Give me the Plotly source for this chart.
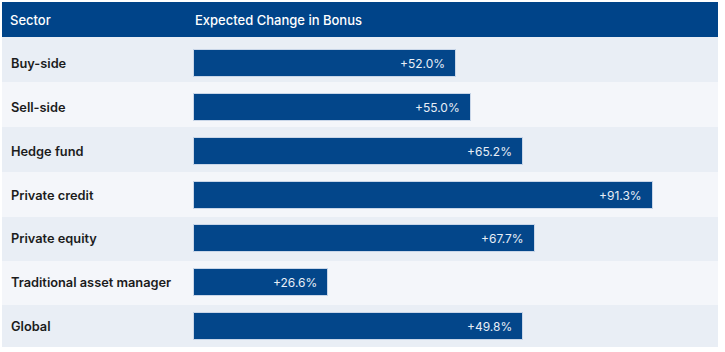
import plotly.graph_objects as go

sectors = ["Buy-side", "Sell-side", "Hedge fund", "Private credit",
           "Private equity", "Traditional asset manager", "Global"]
# bar lengths as drawn in the picture (percent) and the printed labels
bar_lengths = [52.0, 55.0, 65.2, 91.0, 67.6, 26.6, 65.3]
labels = ["+52.0%", "+55.0%", "+65.2%", "+91.3%", "+67.7%", "+26.6%", "+49.8%"]
header_left = "Sector"
header_right = "Expected Change in Bonus"

W, H = 725, 352
X0PX, PXPER = 194.0, 5.04      # bar start pixel, pixels per percent
ROW0, ROWH = 63.5, 43.87       # first bar centre, bar pitch (px)
ROW_EDGES = [37, 82, 127, 172.5, 216.7, 261, 305, 347]  # row band edges (px)

BLUE = "#03468a"
ODD = "#e9eef5"
EVEN = "#f4f6fa"

fig = go.Figure()
fig.add_trace(go.Bar(
    x=bar_lengths, y=sectors, orientation="h", base=0,
    width=27 / ROWH,
    marker=dict(color=BLUE, line=dict(color="#c9d6e8", width=1)),
    hoverinfo="skip",
))

shapes = []
for i in range(len(sectors)):
    shapes.append(dict(type="rect", xref="paper", yref="paper", layer="below",
                       x0=2 / W, x1=718 / W,
                       y0=1 - ROW_EDGES[i + 1] / H, y1=1 - ROW_EDGES[i] / H,
                       fillcolor=ODD if i % 2 == 0 else EVEN, line=dict(width=0)))
shapes.append(dict(type="rect", xref="paper", yref="paper", layer="below",
                   x0=2 / W, x1=718 / W, y0=1 - 37 / H, y1=1 - 2 / H,
                   fillcolor="#004489", line=dict(width=0)))

ann = []
for s, v, t in zip(sectors, bar_lengths, labels):
    ann.append(dict(x=9 / W, xref="paper", y=s, yref="y", text=s, showarrow=False,
                    xanchor="left", yanchor="middle",
                    font=dict(family="Inter", size=12.8, color="#1c1c1c", weight=600)))
    ann.append(dict(x=v, xref="x", y=s, yref="y", text=t, showarrow=False,
                    xanchor="right", yanchor="middle", xshift=-9,
                    font=dict(family="Inter", size=12, color="#e8eef7")))
hy = 1 - 19.5 / H
ann.append(dict(x=8 / W, xref="paper", y=hy, yref="paper", text=header_left,
                showarrow=False, xanchor="left", yanchor="middle",
                font=dict(family="Inter", size=13, color="#ffffff", weight=500)))
ann.append(dict(x=193 / W, xref="paper", y=hy, yref="paper", text=header_right,
                showarrow=False, xanchor="left", yanchor="middle",
                font=dict(family="Inter", size=13, color="#ffffff", weight=500)))

fig.update_layout(
    width=W, height=H, margin=dict(l=0, r=0, t=0, b=0),
    paper_bgcolor="white", plot_bgcolor="rgba(0,0,0,0)",
    showlegend=False, shapes=shapes, annotations=ann, bargap=0,
    xaxis=dict(range=[-X0PX / PXPER, (W - X0PX) / PXPER], visible=False, fixedrange=True),
    yaxis=dict(type="category", categoryorder="array", categoryarray=sectors,
               range=[(H - ROW0) / ROWH, -ROW0 / ROWH], visible=False, fixedrange=True),
)
fig.write_html("out.html")
